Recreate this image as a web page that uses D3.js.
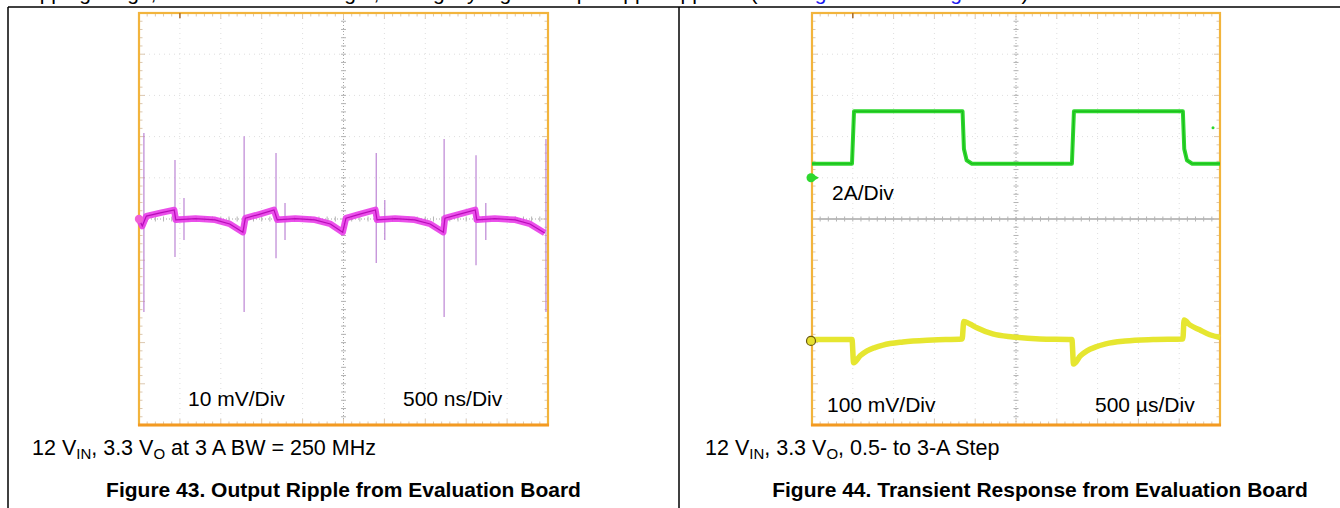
<!DOCTYPE html>
<html>
<head>
<meta charset="utf-8">
<script src="https://cdn.jsdelivr.net/npm/d3@7"></script>
<style>
  body { margin: 0; background: #fff; }
  text { font-family: "Liberation Sans", Arial, sans-serif; }
</style>
</head>
<body>
<div id="graph"></div>
<script>
// Figure 43: output ripple, time in ns (500 ns/div), ripple in mV (10 mV/div)
var rippleT  = [0, 40, 90, 260, 430, 450, 690, 930, 1110, 1270,
                1300, 1480, 1650, 1690, 1910, 2150, 2340, 2490,
                2530, 2700, 2890, 2910, 3130, 3370, 3560, 3720,
                3740, 3920, 4110, 4130, 4350, 4600, 4780, 4960]
var rippleMv = [0, -1.7, 0.7, 1.5, 2.2, -0.2, 0.1, -0.2, -1.2, -3.2,
                0.2, 1.2, 2.2, -0.2, 0.1, -0.2, -1.2, -3.2,
                0.2, 1.2, 2.2, -0.2, 0.1, -0.2, -1.2, -3.2,
                0.2, 1.2, 2.2, -0.2, 0.1, -0.2, -1.2, -3.4]
// switching spikes: time (ns), top and bottom (mV)
var spikeT   = [60, 1285, 3730, 4975, 440, 1675, 2900, 4120, 550, 1785, 3005, 4240]
var spikeTop = [20.9, 20.1, 19.4, 19.4, 14.3, 16.0, 16.0, 15.5, 5.1, 3.9, 4.6, 3.9]
var spikeBot = [-22.6, -22.6, -23.8, -22.6, -9.2, -9.5, -10.7, -11.2, -5.1, -5.1, -5.1, -5.1]

// Figure 44: transient response, time in us (500 us/div)
var loadT  = [0, 490, 515, 1845, 1862, 1895, 1960, 3185, 3210, 4545, 4562, 4595, 4660, 5000]
var loadA  = [0.68, 0.68, 3.23, 3.23, 1.4, 0.85, 0.68, 0.68, 3.23, 3.23, 1.4, 0.85, 0.68, 0.68]
var voutT  = [0, 490, 510, 590, 675, 770, 870, 1115, 1480, 1840,
              1860, 1935, 2020, 2215, 2460, 2790, 3185,
              3205, 3290, 3370, 3470, 3600, 3840, 4180, 4545,
              4560, 4630, 4750, 4875, 5000]
var voutMv = [3.6, 3.6, -53, -36, -24, -16, -10, -2.4, 2.4, 4.9,
              47, 41, 32, 17, 9.7, 4.9, 3.6,
              -56, -36, -24, -15, -7, 0, 3.6, 4.9,
              51, 39, 27, 15, 8.5]

var W = 1340, H = 508
var svg = d3.select('#graph').append('svg')
  .attr('width', W).attr('height', H)
svg.append('rect').attr('width', W).attr('height', H).attr('fill', '#fff')

// the body text line above the table, cut off by the page edge
var bodyLine = svg.append('text').attr('x', 14).attr('y', 0).attr('font-size', 21)
bodyLine.append('tspan').text('skipping range, the load current is light, so slightly higher output ripple appears (see ')
bodyLine.append('tspan').attr('fill', '#1a1aee').text('Figure 43 and Figure 44')
bodyLine.append('tspan').text(').')

// table rules
var rules = [[8, 7, W, 7], [8, 7, 8, H], [679, 7, 679, H]]
svg.selectAll('line.rule').data(rules).join('line')
  .attr('x1', d => d[0]).attr('y1', d => d[1])
  .attr('x2', d => d[2]).attr('y2', d => d[3])
  .attr('stroke', '#000').attr('stroke-width', 1.5)

/*
  draws the graticule of one scope screen, returns the division scales
*/
function scope(box, solidH) {
  var g = svg.append('g')
  var dx = d3.scaleLinear().domain([0, 10]).range([box.x0, box.x1])
  var dy = d3.scaleLinear().domain([-5, 5]).range([box.y1, box.y0])
  var majors = d3.range(1, 10).filter(d => d != 5)
  var minors = d3.range(0, 50).map(d => d / 5)

  g.selectAll('line.gx').data(majors).join('line')
    .attr('x1', dx).attr('x2', dx).attr('y1', box.y0).attr('y2', box.y1)
    .attr('stroke', '#dedede').attr('stroke-dasharray', '1,4')
  g.selectAll('line.gy').data(majors).join('line')
    .attr('y1', dy).attr('y2', dy).attr('x1', box.x0).attr('x2', box.x1)
    .attr('stroke', '#dedede').attr('stroke-dasharray', '1,4')

  // center cross with minor ticks
  g.append('line').attr('x1', dx(5)).attr('x2', dx(5)).attr('y1', box.y0).attr('y2', box.y1)
    .attr('stroke', '#a8a8a8').attr('stroke-dasharray', '1,2')
  g.append('line').attr('y1', dy(0)).attr('y2', dy(0)).attr('x1', box.x0).attr('x2', box.x1)
    .attr('stroke', '#a8a8a8').attr('stroke-width', solidH ? 1.3 : 1)
    .attr('stroke-dasharray', solidH ? null : '1,2')
  g.selectAll('line.cx').data(minors).join('line')
    .attr('x1', dx).attr('x2', dx).attr('y1', dy(0) - 2.5).attr('y2', dy(0) + 2.5)
    .attr('stroke', '#b4b4b4')
  g.selectAll('line.cy').data(minors.map(d => d - 5)).join('line')
    .attr('y1', dy).attr('y2', dy).attr('x1', dx(5) - 2.5).attr('x2', dx(5) + 2.5)
    .attr('stroke', '#b4b4b4')

  // ticks along the frame
  var tl = d => (d % 1 == 0 ? 6 : 3.5)
  g.selectAll('line.tt').data(minors).join('line')
    .attr('x1', dx).attr('x2', dx).attr('y1', box.y0).attr('y2', d => box.y0 + tl(d))
    .attr('stroke', '#dcc8b0')
  g.selectAll('line.tb').data(minors).join('line')
    .attr('x1', dx).attr('x2', dx).attr('y1', box.y1).attr('y2', d => box.y1 - tl(d))
    .attr('stroke', '#dcc8b0')
  g.selectAll('line.tlft').data(minors).join('line')
    .attr('y1', d => dy(d - 5)).attr('y2', d => dy(d - 5)).attr('x1', box.x0).attr('x2', d => box.x0 + tl(d))
    .attr('stroke', '#dcc8b0')
  g.selectAll('line.trgt').data(minors).join('line')
    .attr('y1', d => dy(d - 5)).attr('y2', d => dy(d - 5)).attr('x1', box.x1).attr('x2', d => box.x1 - tl(d))
    .attr('stroke', '#dcc8b0')

  // frame
  g.append('rect').attr('x', box.x0).attr('y', box.y0)
    .attr('width', box.x1 - box.x0).attr('height', box.y1 - box.y0)
    .attr('fill', 'none').attr('stroke', '#f2b43c').attr('stroke-width', 2.2)
  g.append('line').attr('x1', box.x0 - 1).attr('x2', box.x1 + 1).attr('y1', box.y1).attr('y2', box.y1)
    .attr('stroke', '#f39a22').attr('stroke-width', 3)
  // trigger position mark
  g.append('line').attr('x1', dx(1)).attr('x2', dx(1)).attr('y1', box.y0).attr('y2', box.y0 + 5)
    .attr('stroke', '#a86a2a').attr('stroke-width', 1.5)

  return { g: g, dx: dx, dy: dy }
}

function label(x, y, str, size, weight, anchor) {
  return svg.append('text').attr('x', x).attr('y', y)
    .attr('font-size', size).attr('font-weight', weight || 'normal')
    .attr('text-anchor', anchor || 'start').attr('fill', '#000').text(str)
}

/*
  Figure 43
*/
var s1 = scope({ x0: 139, x1: 548, y0: 13, y1: 425 }, false)
var t1 = d3.scaleLinear().domain([0, 5000]).range([139, 548])
var v1 = d3.scaleLinear().domain([-50, 50]).range([425, 13])

s1.g.selectAll('line.spike').data(spikeT).join('line')
  .attr('x1', d => t1(d)).attr('x2', d => t1(d))
  .attr('y1', (d, i) => v1(spikeTop[i])).attr('y2', (d, i) => v1(spikeBot[i]))
  .attr('stroke', '#b67ad0').attr('stroke-width', 1.1)

var ripple = rippleT.map((t, i) => [t1(t), v1(rippleMv[i])])
var rline = d3.line().curve(d3.curveLinear)
s1.g.append('path').attr('d', rline(ripple)).attr('fill', 'none')
  .attr('stroke', '#e83ce8').attr('stroke-width', 6.5).attr('stroke-linejoin', 'round').attr('opacity', 0.9)
s1.g.append('path').attr('d', rline(ripple)).attr('fill', 'none')
  .attr('stroke', '#b80cb8').attr('stroke-width', 1.2)
s1.g.append('circle').attr('cx', 139).attr('cy', v1(0)).attr('r', 4.2).attr('fill', '#f060d8')

label(188, 406, '10 mV/Div', 21)
label(403, 406, '500 ns/Div', 21)

/*
  Figure 44
*/
var s2 = scope({ x0: 812, x1: 1220, y0: 13, y1: 425 }, true)
var t2 = d3.scaleLinear().domain([0, 5000]).range([812, 1220])
// channel offsets: current ref +1 div, voltage ref -2.96 div
var a2 = d3.scaleLinear().domain([(-5 - 1) * 2, (5 - 1) * 2]).range([425, 13])
var m2 = d3.scaleLinear().domain([(-5 + 2.96) * 100, (5 + 2.96) * 100]).range([425, 13])

var load = loadT.map((t, i) => [t2(t), a2(loadA[i])])
s2.g.append('path').attr('d', d3.line()(load)).attr('fill', 'none')
  .attr('stroke', '#2ed82e').attr('stroke-width', 4).attr('stroke-linejoin', 'round')
s2.g.append('path').attr('d', d3.line()(load)).attr('fill', 'none')
  .attr('stroke', '#18b818').attr('stroke-width', 1)

var vout = voutT.map((t, i) => [t2(t), m2(voutMv[i])])
s2.g.append('path').attr('d', d3.line().curve(d3.curveMonotoneX)(vout)).attr('fill', 'none')
  .attr('stroke', '#e6e630').attr('stroke-width', 5.5).attr('stroke-linejoin', 'round')

// channel markers
s2.g.append('path').attr('d', 'M' + 812 + ',' + (a2(0) - 4) + 'l7,4l-7,4z').attr('fill', '#2ed82e')
s2.g.append('circle').attr('cx', 811).attr('cy', a2(0)).attr('r', 4.5).attr('fill', '#2ed82e')
s2.g.append('circle').attr('cx', 1213).attr('cy', a2(2.43)).attr('r', 1.5).attr('fill', '#2ed82e')
s2.g.append('circle').attr('cx', 811).attr('cy', m2(0)).attr('r', 4.5)
  .attr('fill', '#e6e030').attr('stroke', '#6a5a10').attr('stroke-width', 1.2)

label(832, 200, '2A/Div', 21)
label(827, 412, '100 mV/Div', 21)
label(1095, 412, '500 µs/Div', 21)

/*
  captions
*/
function caption(x, y, parts) {
  var t = svg.append('text').attr('x', x).attr('y', y).attr('font-size', 21.5)
  parts.forEach(p => {
    t.append('tspan').text(p[0])
      .attr('font-size', p[1] ? 15 : 21.5)
      .attr('dy', p[1] ? 4 : (p[2] ? -4 : 0))
  })
}
caption(32, 455, [['12 V'], ['IN', 1], [', 3.3 V', 0, 1], ['O', 1], [' at 3 A BW = 250 MHz', 0, 1]])
caption(705, 455, [['12 V'], ['IN', 1], [', 3.3 V', 0, 1], ['O', 1], [', 0.5- to 3-A Step', 0, 1]])

label(343.5, 497, 'Figure 43. Output Ripple from Evaluation Board', 21, 'bold', 'middle')
label(1040, 497, 'Figure 44. Transient Response from Evaluation Board', 21, 'bold', 'middle')
</script>
</body>
</html>
